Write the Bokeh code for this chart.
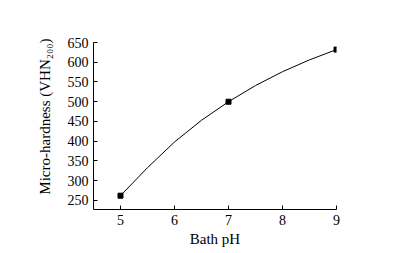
from bokeh.plotting import figure
from bokeh.models import Range1d, FixedTicker
from bokeh.embed import file_html
from bokeh.resources import INLINE

# measured points (markers)
ph = [5, 7, 9]
hardness = [262, 500, 632]

# smooth curve
curve_ph = [5, 5.5, 6, 6.5, 7, 7.5, 8, 8.5, 9]
curve_hv = [262, 333, 398, 453, 500, 541, 576, 606, 632]

x_ticks = [5, 6, 7, 8, 9]
y_ticks = [250, 300, 350, 400, 450, 500, 550, 600, 650]

FONT = "Liberation Serif"

p = figure(width=405, height=253, output_backend="svg", toolbar_location=None,
           x_range=Range1d(4.5, 9), y_range=Range1d(227, 650),
           min_border_left=93, min_border_right=69, min_border_top=42, min_border_bottom=44)
p.outline_line_color = None
p.xgrid.visible = False
p.ygrid.visible = False
p.background_fill_color = "white"
p.border_fill_color = "white"

p.line(curve_ph, curve_hv, line_color="black", line_width=1)
p.scatter(ph, hardness, marker="square", size=5, fill_color="black", line_color="black")

for ax in (p.xaxis[0], p.yaxis[0]):
    ax.axis_line_color = "black"
    ax.axis_line_width = 1
    ax.major_tick_in = 4
    ax.major_tick_out = 0
    ax.minor_tick_line_color = None
    ax.major_tick_line_color = "black"
    ax.major_label_text_font = FONT
    ax.major_label_text_font_size = "14px"
    ax.major_label_text_color = "black"
    ax.axis_label_text_font = FONT
    ax.axis_label_text_font_size = "15px"
    ax.axis_label_text_font_style = "normal"
    ax.axis_label_text_color = "black"
    ax.major_label_standoff = 5

p.xaxis.ticker = FixedTicker(ticks=x_ticks)
p.yaxis.ticker = FixedTicker(ticks=y_ticks)
p.xaxis.axis_label = "Bath pH"
p.xaxis.axis_label_standoff = 3
# leading no-break spaces nudge the rotated label slightly upward, as in the reference
p.yaxis.axis_label = "\u00a0" * 5 + "Micro-hardness (VHN\u2082\u2080\u2080)"
p.yaxis.axis_label_standoff = 12

open("out.html", "w").write(file_html(p, INLINE))
